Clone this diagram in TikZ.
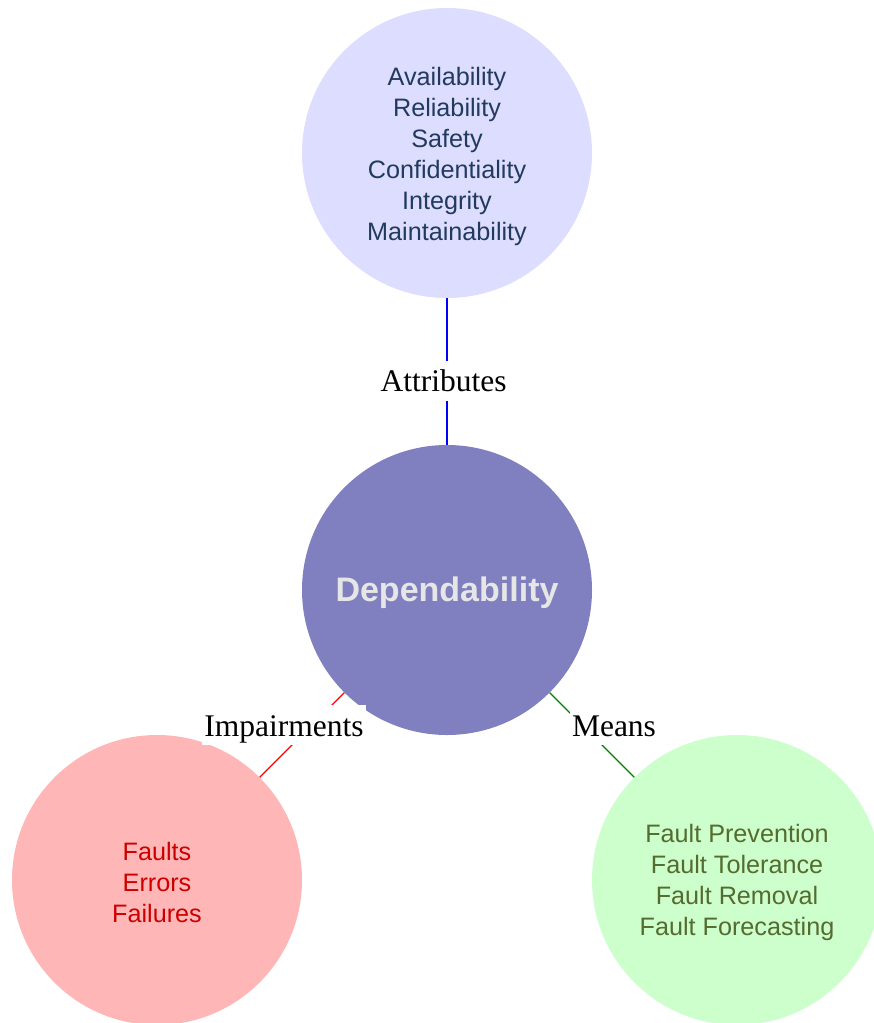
\documentclass[tikz,border=0pt]{standalone}
\usepackage{fontspec}
\setmainfont{Liberation Serif}
\setsansfont{Liberation Sans}
\begin{document}
\definecolor{attrfill}{HTML}{DDDDFF}
\definecolor{attrtext}{HTML}{223A5E}
\definecolor{corefill}{HTML}{8080C0}
\definecolor{coretext}{HTML}{E6E6E6}
\definecolor{impfill}{HTML}{FFB6B6}
\definecolor{imptext}{HTML}{CC0000}
\definecolor{meanfill}{HTML}{CCFFCC}
\definecolor{meantext}{HTML}{556B2F}
\definecolor{meanline}{HTML}{008000}
\begin{tikzpicture}[x=1pt,y=-1pt,
  bubble/.style={circle,draw=none,minimum size=290pt,inner sep=0pt},
  bubbletext/.style={align=center,inner sep=0pt,font=\sffamily\fontsize{25.2}{31}\selectfont},
  edgelabel/.style={fill=white,inner xsep=2pt,inner ysep=0pt,text height=31pt,text depth=9pt,
    font=\rmfamily\fontsize{31.5}{36}\selectfont},
  link/.style={line width=1.3pt}]
\useasboundingbox (0,0) rectangle (874,1023);

% the four groups
\node[bubble,fill=attrfill] (attr) at (447,153) {};
\node[bubble,fill=corefill] (core) at (447,590) {};
\node[bubble,fill=impfill] (imp) at (157,880) {};
\node[bubble,fill=meanfill] (mean) at (737,880) {};

% their contents
\node[bubbletext,text=attrtext] (attrlist) at ([yshift=-3pt]attr.center)
  {Availability\\Reliability\\Safety\\Confidentiality\\Integrity\\Maintainability};
\node[bubbletext,text=coretext,font=\sffamily\bfseries\fontsize{34}{40}\selectfont] (corename)
  at ([yshift=-3pt]core.center) {Dependability};
\node[bubbletext,text=imptext] (implist) at ([yshift=-2pt]imp.center)
  {Faults\\Errors\\Failures};
\node[bubbletext,text=meantext] (meanlist) at ([yshift=-2pt]mean.center)
  {Fault Prevention\\Fault Tolerance\\Fault Removal\\Fault Forecasting};

% links from the centre
\draw[link,blue] (core) -- (attr);
\draw[link,red] (core) -- (imp);
\draw[link,meanline] (core) -- (mean);

% link labels on white boxes
\node[edgelabel] (lattr) at (443.5,380.5) {Attributes};
\node[edgelabel] (limp) at (284,725) {Impairments};
\node[edgelabel] (lmean) at (614,725) {Means};
\end{tikzpicture}
\end{document}
